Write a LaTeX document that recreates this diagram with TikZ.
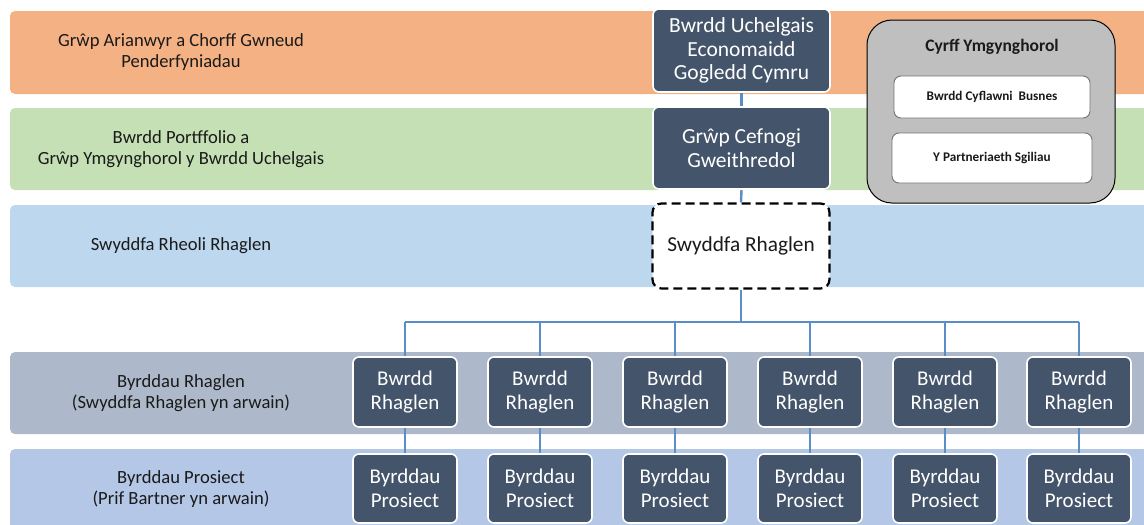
\documentclass[tikz,border=0pt]{standalone}
\usepackage{fontspec}
\setmainfont{Carlito}
\pgfdeclarelayer{bg}\pgfdeclarelayer{mid}\pgfsetlayers{bg,mid,main}
\definecolor{bandA}{HTML}{F4B183}
\definecolor{bandB}{HTML}{C5E0B4}
\definecolor{bandC}{HTML}{BDD7EE}
\definecolor{bandD}{HTML}{ADB9CA}
\definecolor{bandE}{HTML}{B4C7E7}
\definecolor{darkbox}{HTML}{44546A}
\definecolor{connc}{HTML}{5B8DC8}
\definecolor{graybox}{HTML}{BFBFBF}
\definecolor{txt}{HTML}{1A1A1A}
\begin{document}
\begin{tikzpicture}[x=1pt,y=-1pt,
  bandshape/.style={rounded corners=5pt},
  lefttext/.style={align=center, text=txt, font=\fontsize{18.6}{20.5}\selectfont, inner sep=0pt},
  darkbig/.style={draw=white, line width=1.6pt, fill=darkbox, rounded corners=6pt, text=white, align=center,
    font=\fontsize{21.5}{23.5}\selectfont, inner sep=0pt, minimum width=177pt, minimum height=83pt},
  darksmall/.style={draw=white, line width=1.6pt, fill=darkbox, rounded corners=6pt, text=white, align=center,
    font=\fontsize{21}{23.5}\selectfont, inner sep=0pt, minimum width=104pt, minimum height=70pt},
  conn/.style={draw=connc, line width=2.4pt},
  innerbox/.style={draw=black!55, line width=0.9pt, fill=white, rounded corners=7pt, inner sep=0pt,
    font=\fontsize{13.2}{15}\selectfont\bfseries, text=txt}
]
\useasboundingbox (0,0) rectangle (1144,525);
\begin{pgfonlayer}{bg}
\fill[bandA, bandshape] (10,11) rectangle (1160,94);
\fill[bandB, bandshape] (10,108) rectangle (1160,190);
\fill[bandC, bandshape] (10,205) rectangle (1160,287);
\fill[bandD, bandshape] (10,352) rectangle (1160,434);
\fill[bandE, bandshape] (10,449) rectangle (1160,540);
\end{pgfonlayer}

\node[lefttext] (l1) at (181,52) {Grŵp Arianwyr a Chorff Gwneud\\Penderfyniadau};
\node[lefttext] (l2) at (181,149) {Bwrdd Portffolio a\\Grŵp Ymgynghorol y Bwrdd Uchelgais};
\node[lefttext] (l3) at (181,246) {Swyddfa Rheoli Rhaglen};
\node[lefttext] (l4) at (181,393) {Byrddau Rhaglen\\(Swyddfa Rhaglen yn arwain)};
\node[lefttext] (l5) at (181,489) {Byrddau Prosiect\\(Prif Bartner yn arwain)};

\node[darkbig] (top) at (741.5,50.5) {Bwrdd Uchelgais\\Economaidd\\Gogledd Cymru};
\node[darkbig, minimum height=82pt] (grp) at (741.5,148) {Grŵp Cefnogi\\Gweithredol};
\node[draw=black, line width=2.2pt, dash pattern=on 9pt off 5pt, fill=white, rounded corners=9pt,
  minimum width=177pt, minimum height=85pt, inner sep=0pt, font=\fontsize{21.3}{23.5}\selectfont, text=txt]
  (swy) at (741,246) {Swyddfa Rhaglen};

\node[draw=black, line width=1pt, fill=graybox, rounded corners=25pt, minimum width=248pt, minimum height=183pt,
  inner sep=0pt] (cyrff) at (991,111.5) {};
\node[font=\fontsize{17.5}{19}\selectfont\bfseries, text=txt, inner sep=0pt] (cyt) at (992,47) {Cyrff Ymgynghorol};
\node[innerbox, minimum width=196pt, minimum height=42pt] (ib1) at (992,97) {Bwrdd Cyflawni\ \ Busnes};
\node[innerbox, minimum width=200pt, minimum height=50pt] (ib2) at (992,158) {Y Partneriaeth Sgiliau};

\foreach \i/\x in {1/405,2/540,3/675,4/810,5/945,6/1079}{
  \node[darksmall] (r\i) at (\x,392) {Bwrdd\\Rhaglen};
  \node[darksmall, minimum height=69pt] (p\i) at (\x,488.5) {Byrddau\\Prosiect};
}

\coordinate (busy) at (0,322);
\begin{pgfonlayer}{mid}
\draw[conn] (top.south) -- (grp.north);
\draw[conn] (grp.south) -- (swy.north);
\draw[conn] (swy.south) -- (swy.south |- busy);
\draw[conn] (r1.north |- busy) -- (r6.north |- busy);
\foreach \i in {1,...,6}{
  \draw[conn] (r\i.north |- busy) -- (r\i.north);
  \draw[conn] (r\i.south) -- (p\i.north);
}
\end{pgfonlayer}
\end{tikzpicture}
\end{document}
